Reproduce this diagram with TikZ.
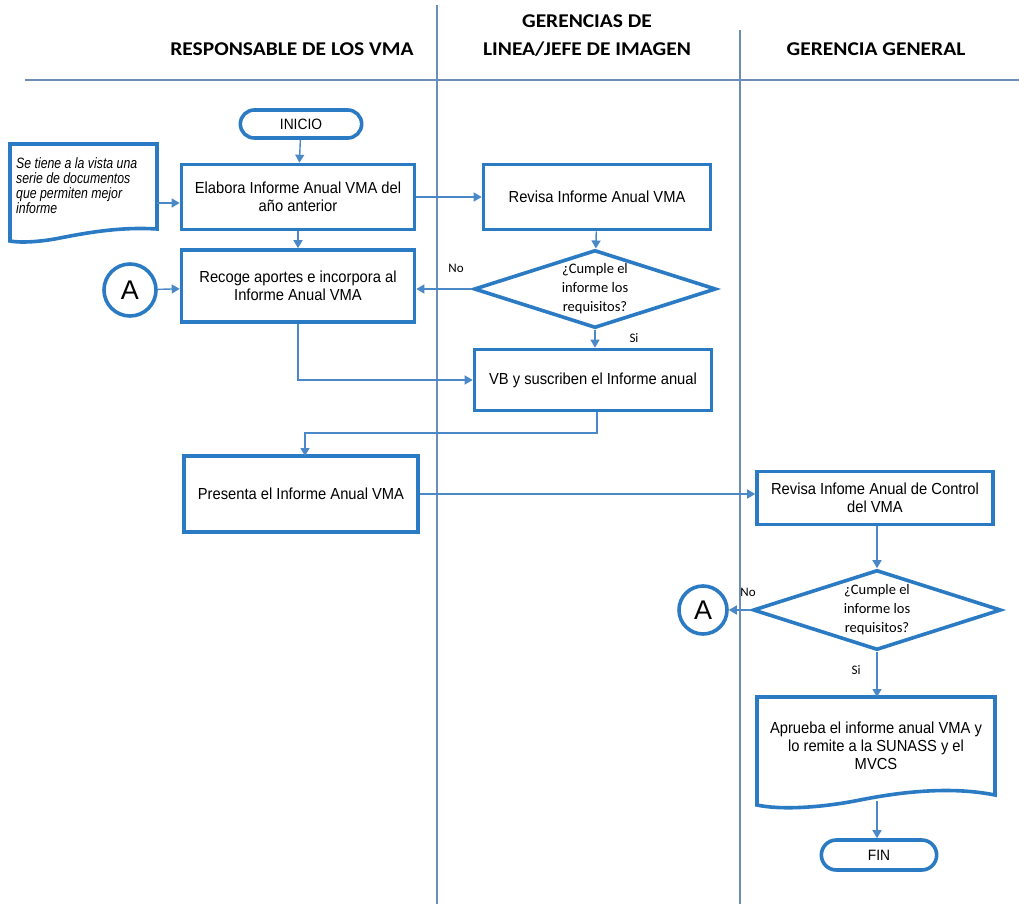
\documentclass[tikz,border=0pt]{standalone}
\usepackage{fontspec}
\setmainfont{Liberation Sans}
\newfontfamily\calib{Carlito}
\newfontfamily\hdrfont[FakeStretch=1.1]{Carlito}
\newfontfamily\boxfont[FakeStretch=0.92]{Liberation Sans}
\newfontfamily\docfont[FakeStretch=0.82]{Liberation Sans}
\usetikzlibrary{arrows.meta,shapes.geometric,shapes.misc,calc}
\definecolor{boxblue}{HTML}{2B7BC4}
\definecolor{linkblue}{HTML}{4A88C8}
\definecolor{lanegray}{HTML}{6C8DB4}
\tikzset{
  x=1pt,y=-1pt,
  lane/.style={draw=lanegray,line width=1.1pt},
  procbox/.style={draw=boxblue,line width=3.6pt,fill=white,rectangle,align=center,font=\boxfont\fontsize{16}{18}\selectfont},
  term/.style={draw=boxblue,line width=3.6pt,fill=white,rounded rectangle,align=center,font=\boxfont\fontsize{15}{17}\selectfont},
  decis/.style={draw=boxblue,line width=3.6pt,fill=white,diamond,aspect=3.1,inner sep=0pt,align=center,font=\calib\fontsize{14.5}{19}\selectfont},
  conn/.style={draw=boxblue,line width=3.6pt,fill=white,circle,inner sep=0pt,font=\fontsize{27}{27}\selectfont},
  link/.style={draw=linkblue,line width=1.4pt,-{Triangle[length=8pt,width=9pt]}},
  hdr/.style={font=\hdrfont\bfseries\fontsize{19.5}{28}\selectfont,align=center},
  lbl/.style={font=\calib\fontsize{13}{15}\selectfont},
  docshape/.style={draw=boxblue,line width=3.6pt,fill=white,line join=miter},
}
\begin{document}
\begin{tikzpicture}
\useasboundingbox (0,0) rectangle (1019,904);
% lanes
\draw[lane] (25,80) -- (1019,80);
\draw[lane] (437,5) -- (437,904);
\draw[lane] (740,30) -- (740,904);
\node[hdr] (h1) at (292,49) {RESPONSABLE DE LOS VMA};
\node[hdr] (h2) at (587,36) {GERENCIAS DE\\LINEA/JEFE DE IMAGEN};
\node[hdr] (h3) at (876,49) {GERENCIA GENERAL};
% nodes
\node[term,minimum width=128pt,minimum height=28pt] (ini) at (301,124) {INICIO};
\node[procbox,minimum width=233pt,minimum height=65pt] (elab) at (298,197) {Elabora Informe Anual VMA del\\año anterior};
\node[procbox,minimum width=227pt,minimum height=65pt] (rev) at (597,197) {Revisa Informe Anual VMA};
\node[procbox,minimum width=233pt,minimum height=72pt] (rec) at (298,286) {Recoge aportes e incorpora al\\Informe Anual VMA};
\node[conn,minimum size=52pt] (a1) at (130,290) {A};
\node[decis,minimum width=242pt,minimum height=78pt] (d1) at (595,289) {¿Cumple el\\informe los\\requisitos?};
\node[procbox,minimum width=237pt,minimum height=61pt] (vb) at (593,380) {VB y suscriben el Informe anual};
\node[procbox,minimum width=234pt,minimum height=76pt] (pres) at (301,494) {Presenta el Informe Anual VMA};
\node[procbox,minimum width=236pt,minimum height=53pt] (revc) at (875,498) {Revisa Infome Anual de Control\\del VMA};
\node[decis,minimum width=248pt,minimum height=80pt] (d2) at (877,610) {¿Cumple el\\informe los\\requisitos?};
\node[conn,minimum size=48pt] (a2) at (703,610) {A};
% document shapes
\draw[docshape]
  (10,144) -- (157,144) -- (157,229)
  .. controls (125,227) and (95,231) .. (60,238)
  .. controls (40,242) and (20,243) .. (10,241) -- cycle;
\node[align=left,anchor=north west,inner sep=0pt,font=\docfont\itshape\fontsize{15}{15}\selectfont] (doc) at (16,157) {Se tiene a la vista una\\serie de documentos\\que permiten mejor\\informe};
\coordinate (docR) at (157,203);
\draw[docshape]
  (757,697) -- (995,697) -- (995,795)
  .. controls (950,786) and (900,792) .. (860,800)
  .. controls (820,808) and (780,810) .. (757,805) -- cycle;
\node[align=center,font=\boxfont\fontsize{16}{18}\selectfont] (apr) at (876,746) {Aprueba el informe anual VMA y\\lo remite a la SUNASS y el\\MVCS};
\coordinate (aprB) at (877,801);
\coordinate (aprT) at (877,697);
\node[term,minimum width=122pt,minimum height=30pt] (fin) at (879,855) {FIN};
% connectors
\draw[link] (ini) -- (elab);
\draw[link] (docR) -- (docR -| elab.west);
\draw[link] (elab) -- (rev);
\draw[link] (elab) -- (rec);
\draw[link] (a1) -- (rec);
\draw[link] (rev) -- (d1);
\draw[link] (d1.west) -- (d1.west -| rec.east);
\node[lbl] (no1) at (456,268) {No};
\draw[link] (d1.south) -- (vb.north -| d1.south);
\node[lbl] (si1) at (634,338) {Si};
\draw[link] (rec.south) -- (rec.south |- vb.west) -- (vb.west);
\draw[link] (vb.south -| 597,0) -- (597,433) -- (305,433) -- (305,456);
\draw[link] (pres.east |- 0,494) -- (revc.west |- 0,494);
\draw[link] (revc.south -| 877,0) -- (d2.north);
\draw[link] (d2.west) -- (a2);
\node[lbl] (no2) at (748,592) {No};
\draw[link] (d2.south) -- (aprT);
\node[lbl] (si2) at (856,670) {Si};
\draw[link] (aprB) -- (fin.north -| aprB);
\end{tikzpicture}
\end{document}
